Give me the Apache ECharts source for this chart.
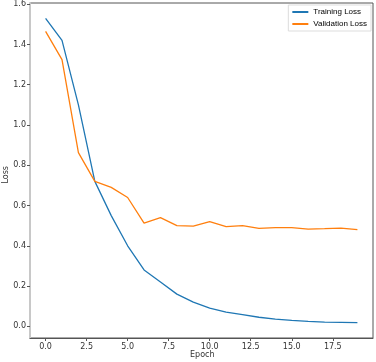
<!DOCTYPE html>
<html>
<head>
<meta charset="utf-8">
<script src="https://cdn.jsdelivr.net/npm/echarts@6/dist/echarts.min.js"></script>
<style>
  html, body { margin: 0; padding: 0; background: #fff; }
  #chart { width: 376px; height: 362px; }
</style>
</head>
<body>
<div id="chart"></div>
<script>
var epochs = [0,1,2,3,4,5,6,7,8,9,10,11,12,13,14,15,16,17,18,19];
var trainLoss = [1.53,1.42,1.10,0.72,0.55,0.40,0.28,0.22,0.16,0.12,0.09,0.07,0.058,0.045,0.036,0.03,0.025,0.021,0.02,0.018];
var valLoss = [1.465,1.325,0.863,0.72,0.69,0.64,0.513,0.54,0.50,0.498,0.52,0.495,0.50,0.487,0.49,0.49,0.483,0.485,0.488,0.48];
var xTicks = [0,2.5,5,7.5,10,12.5,15,17.5];
var yTicks = [0,0.2,0.4,0.6,0.8,1.0,1.2,1.4,1.6];

function pairs(ys) {
  return epochs.map(function (e, i) { return [e, ys[i]]; });
}

var myChart = echarts.init(document.getElementById('chart'));
var option = {
  animation: false,
  textStyle: { fontFamily: 'DejaVu Sans' },
  grid: {
    left: 30, right: 3, top: 3, bottom: 24,
    outerBoundsMode: 'none',
    containLabel: false,
    show: true, borderColor: '#555', borderWidth: 1
  },
  legend: {
    right: 5, top: 5,
    orient: 'vertical',
    icon: 'rect',
    itemWidth: 16, itemHeight: 2,
    itemGap: 4,
    padding: [3, 4, 3, 4],
    borderColor: '#ddd', borderWidth: 1,
    backgroundColor: '#fff',
    textStyle: { fontSize: 8, color: '#000', fontFamily: 'Liberation Sans' },
    data: ['Training Loss', 'Validation Loss']
  },
  xAxis: {
    type: 'value',
    min: -0.95, max: 19.95,
    splitLine: { show: false },
    axisLine: { onZero: false, lineStyle: { color: '#555', width: 1 } },
    axisTick: { customValues: xTicks, length: 3, lineStyle: { color: '#555' } },
    axisLabel: {
      customValues: xTicks, fontSize: 8, color: '#333', margin: 5,
      formatter: function (v) { return v.toFixed(1); }
    }
  },
  yAxis: {
    type: 'value',
    min: -0.058, max: 1.606,
    splitLine: { show: false },
    axisLine: { show: true, onZero: false, lineStyle: { color: '#c8c8c8', width: 2 } },
    axisTick: { customValues: yTicks, length: 3, lineStyle: { color: '#555' } },
    axisLabel: {
      customValues: yTicks, fontSize: 8, color: '#333', margin: 4,
      formatter: function (v) { return v.toFixed(1); }
    }
  },
  graphic: [
    {
      type: 'text', left: 2, top: 166, rotation: Math.PI / 2,
      style: { text: 'Loss', fontSize: 8, fill: '#333', fontFamily: 'DejaVu Sans' }
    },
    {
      type: 'text', left: 190, top: 351,
      style: { text: 'Epoch', fontSize: 8, fill: '#333', fontFamily: 'DejaVu Sans' }
    }
  ],
  series: [
    {
      name: 'Training Loss', type: 'line', data: pairs(trainLoss),
      showSymbol: false, lineStyle: { color: '#1f77b4', width: 1.3 },
      itemStyle: { color: '#1f77b4' }
    },
    {
      name: 'Validation Loss', type: 'line', data: pairs(valLoss),
      showSymbol: false, lineStyle: { color: '#ff7f0e', width: 1.3 },
      itemStyle: { color: '#ff7f0e' }
    }
  ]
};
myChart.setOption(option);
</script>
</body>
</html>
